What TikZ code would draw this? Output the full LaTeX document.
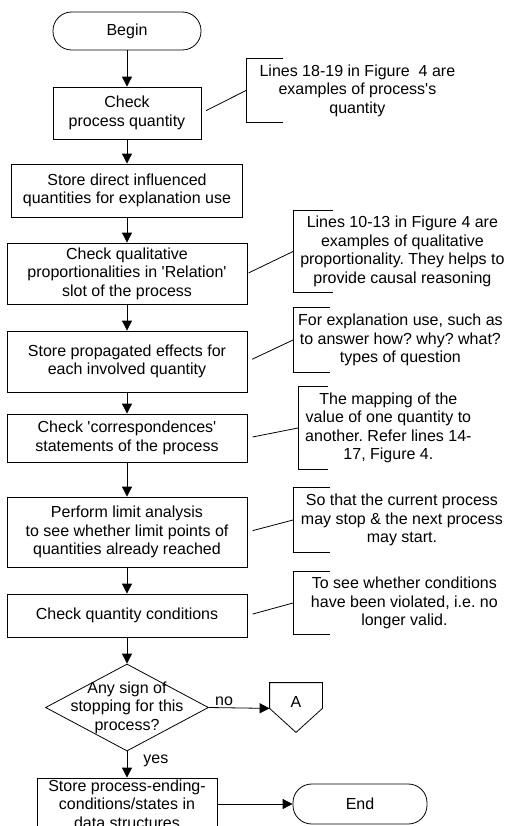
\documentclass[tikz,border=0pt]{standalone}
\usepackage{fontspec}
\setmainfont{Liberation Sans}[Ligatures=TeXOff]
\usetikzlibrary{arrows.meta,shapes.geometric}
\frenchspacing

\begin{document}
\begin{tikzpicture}[
		x=0.75pt, y=-0.75pt,
		line width=0.6pt,
		every node/.style={font=\fontsize{12}{13.9}\selectfont, align=center, inner sep=0pt},
		flow/.style={-{Triangle[width=7.5pt,length=7.5pt]}},
		terminal/.style={draw, rectangle, rounded corners=14pt, minimum height=#1},
		process/.style={draw, rectangle, minimum width=180pt, minimum height=#1},
		decision/.style={draw, diamond, minimum width=122.25pt, minimum height=65.25pt},
		note/.style={rectangle, anchor=west}
	]
	\useasboundingbox (0,0) rectangle (520,826);
	\clip (0,0) rectangle (520,826);

	\node[terminal=28.5pt, minimum width=111pt] (begin) at (127,31) {Begin};
	\node[process=39pt, minimum width=111pt] (chkqty) at (127,113) {Check\\process quantity};
	\node[process=39.75pt, minimum width=173.25pt] (storedir) at (127,190.5) {Store direct influenced\\quantities for explanation use};
	\node[process=45.75pt] (chkqual) at (127,273.5) {Check qualitative\\proportionalities in 'Relation'\\slot of the process};
	\node[process=45.75pt] (storeprop) at (127,361.5) {Store propagated effects for\\each involved quantity};
	\node[process=36pt] (chkcorr) at (127,438) {Check 'correspondences'\\statements of the process};
	\node[process=52.5pt] (limit) at (127,532) {Perform limit analysis\\to see whether limit points of\\quantities already reached};
	\node[process=32.25pt] (chkcond) at (127,615.5) {Check quantity conditions};
	\node[decision, label={center:Any sign of\\stopping for this\\process?}] (dec) at (127,707.5) {};
	\node[process=39pt, minimum width=135pt] (final) at (127,804) {Store process-ending-\\conditions/states in\\data structures};
	\node[terminal=30pt, minimum width=100.5pt] (end) at (360,804) {End};
	\node[rectangle, minimum width=39pt, minimum height=18.75pt] (conA) at (296,695.5) {\raisebox{-4.5pt}[\height][\depth]{A}};
	\draw (conA.north west) -- (conA.north east) -- (conA.south east) -- ([yshift=-18pt]conA.south) -- (conA.south west) -- cycle;

	\node[note, minimum width=166.5pt, minimum height=47.25pt] (n1) at (246,90.5) {Lines 18-19 in Figure\ \ 4 are\\examples of process's\\quantity};
	\node[note, minimum width=163.5pt, minimum height=60.75pt] (n2) at (293,251.5) {Lines 10-13 in Figure 4 are\\examples of qualitative\\proportionality. They helps to\\provide causal reasoning};
	\node[note, minimum width=160.5pt, minimum height=48pt] (n3) at (293,340) {For explanation use, such as\\to answer how? why? what?\\types of question};
	\node[note, minimum width=135pt, minimum height=61.5pt] (n4) at (298,428) {The mapping of the\\value of one quantity to\\another. Refer lines 14-\\17, Figure 4.};
	\node[note, minimum width=162.75pt, minimum height=48pt] (n5) at (293,520) {So that the current process\\may stop \& the next process\\may start.};
	\node[note, minimum width=166.5pt, minimum height=46.5pt] (n6) at (293,603) {To see whether conditions\\have been violated, i.e. no\\longer valid.};

	\foreach \a/\b in {begin/chkqty, chkqty/storedir, storedir/chkqual, chkqual/storeprop,
			storeprop/chkcorr, chkcorr/limit, limit/chkcond, chkcond/dec}
		\draw[flow] (\a.south) -- (\b.north);
	\draw[flow] (dec.east) -- node[above, pos=0.25, yshift=1.5pt] {no} (conA.south west);
	\draw[flow] (dec.south) -- node[right, pos=0.35, xshift=12pt] {yes} (final.north);
	\draw[flow] (final.east) -- (end.west);

	\foreach \n/\w in {n1/27.75pt, n2/30pt, n3/27.75pt, n4/22.5pt, n5/27.75pt, n6/27.75pt}
		\draw ([xshift=\w]\n.north west) -- (\n.north west) -- (\n.south west) -- ([xshift=\w]\n.south west);
	\foreach \a/\b/\s in {chkqty/n1/4pt, chkqual/n2/1pt, storeprop/n3/4pt,
			chkcorr/n4/4pt, limit/n5/4pt, chkcond/n6/4pt}
		\draw[shorten <=\s] (\a.east) -- (\b.west);
\end{tikzpicture}
\end{document}
